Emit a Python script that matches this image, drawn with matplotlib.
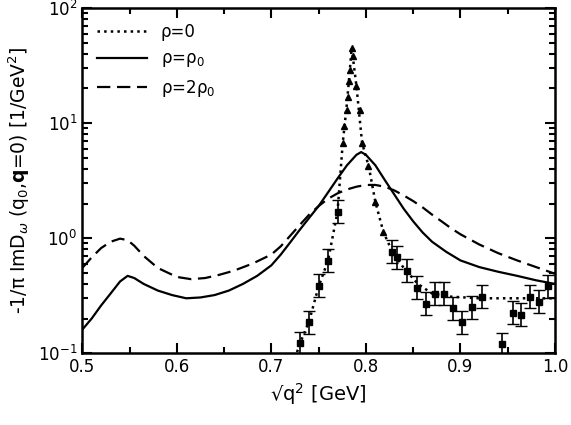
import numpy as np
import matplotlib
matplotlib.use("Agg")
import matplotlib.pyplot as plt
from matplotlib.ticker import LogLocator, MultipleLocator

# rho=0 data points (squares with error bars, triangles near peak)
sq_x = [0.730,0.740,0.750,0.760,0.770,0.828,0.833,0.8435,0.854,0.8636,0.873,0.883,0.8925,0.902,0.912,0.9225,0.9435,0.956,0.9637,0.9735,0.983,0.993]
sq_y = [0.122,0.186,0.385,0.635,1.7,0.76,0.68,0.52,0.37,0.27,0.33,0.33,0.245,0.185,0.25,0.31,0.12,0.224,0.215,0.31,0.28,0.38]
tr_x = [0.7755,0.777,0.7797,0.781,0.782,0.783,0.785,0.786,0.790,0.794,0.796,0.8027,0.810,0.8185]
tr_y = [6.7,9.4,13,17,23,29,45,38,21,13,6.7,4.2,2.07,1.13]
dot_x = [0.725,0.730,0.740,0.750,0.760,0.770,0.7755,0.780,0.785,0.790,0.796,0.803,0.810,0.8185,0.828,0.840,0.855,0.870,0.890,0.920,0.950,1.0]
dot_y = [0.09,0.12,0.19,0.38,0.64,1.7,6.7,15,45,21,6.7,4.2,2.07,1.13,0.76,0.55,0.40,0.33,0.31,0.30,0.30,0.30]
sol_x = [0.50,0.51,0.52,0.53,0.54,0.548,0.555,0.565,0.58,0.595,0.61,0.625,0.64,0.655,0.67,0.685,0.70,0.71,0.72,0.73,0.74,0.75,0.76,0.77,0.78,0.79,0.795,0.80,0.81,0.82,0.83,0.84,0.85,0.86,0.87,0.885,0.90,0.92,0.94,0.96,0.98,1.0]
sol_y = [0.16,0.20,0.26,0.33,0.42,0.47,0.45,0.40,0.35,0.32,0.30,0.305,0.32,0.35,0.40,0.47,0.58,0.72,0.92,1.18,1.5,1.9,2.5,3.3,4.3,5.3,5.6,5.3,4.3,3.2,2.4,1.8,1.4,1.12,0.93,0.76,0.64,0.56,0.51,0.47,0.43,0.40]
dash_x = [0.50,0.51,0.52,0.53,0.54,0.548,0.555,0.565,0.58,0.60,0.615,0.63,0.645,0.66,0.68,0.70,0.71,0.72,0.73,0.74,0.75,0.76,0.77,0.78,0.79,0.80,0.81,0.82,0.83,0.84,0.85,0.86,0.87,0.88,0.89,0.90,0.92,0.94,0.96,0.98,1.0]
dash_y = [0.55,0.68,0.82,0.93,0.99,0.96,0.86,0.70,0.55,0.46,0.44,0.45,0.48,0.52,0.60,0.72,0.85,1.05,1.3,1.6,1.9,2.2,2.45,2.65,2.8,2.9,2.9,2.8,2.6,2.35,2.1,1.85,1.6,1.4,1.22,1.08,0.88,0.74,0.64,0.56,0.49]

plt.rcParams['font.family'] = ['DejaVu Sans']
fig = plt.figure(figsize=(5.71,4.25), dpi=100)
ax = fig.add_axes([0.144, 0.169, 0.828, 0.812])
ax.plot(dot_x, dot_y, color='k', ls=':', lw=1.8, label='ρ=0')
ax.plot(sol_x, sol_y, color='k', ls='-', lw=1.6, label='ρ=ρ$_0$')
ax.plot(dash_x, dash_y, color='k', ls=(0,(6,3)), lw=1.6, label='ρ=2ρ$_0$')
err_lo = [y*(1-10**-0.1) for y in sq_y]
err_hi = [y*(10**0.1-1) for y in sq_y]
ax.errorbar(sq_x, sq_y, yerr=[err_lo, err_hi], fmt='s', color='k', ms=4, capsize=4, elinewidth=1.2, ls='none')
ax.plot(tr_x, tr_y, '^', color='k', ms=5, ls='none')
ax.set_yscale('log')
ax.set_xlim(0.5, 1.0)
ax.set_ylim(0.1, 100)
ax.xaxis.set_major_locator(MultipleLocator(0.1))
ax.xaxis.set_minor_locator(MultipleLocator(0.05))
ax.yaxis.set_major_locator(LogLocator(10))
ax.yaxis.set_minor_locator(LogLocator(10, subs=np.arange(2,10)))
ax.tick_params(which='both', direction='in', top=True, right=True, labelsize=12, width=1.5)
ax.tick_params(which='major', length=7)
ax.tick_params(which='minor', length=4)
for s in ax.spines.values():
    s.set_linewidth(1.8)
ax.set_xlabel('√q$^2$ [GeV]', fontsize=14)
ax.set_ylabel('-1/π ImD$_\\omega$ (q$_0$,$\\mathbf{q}$=0) [1/GeV$^2$]', fontsize=13.5)
ax.legend(loc='upper left', frameon=False, fontsize=12, handlelength=3, bbox_to_anchor=(0.0, 1.0))
fig.savefig('out.png', dpi=100)
